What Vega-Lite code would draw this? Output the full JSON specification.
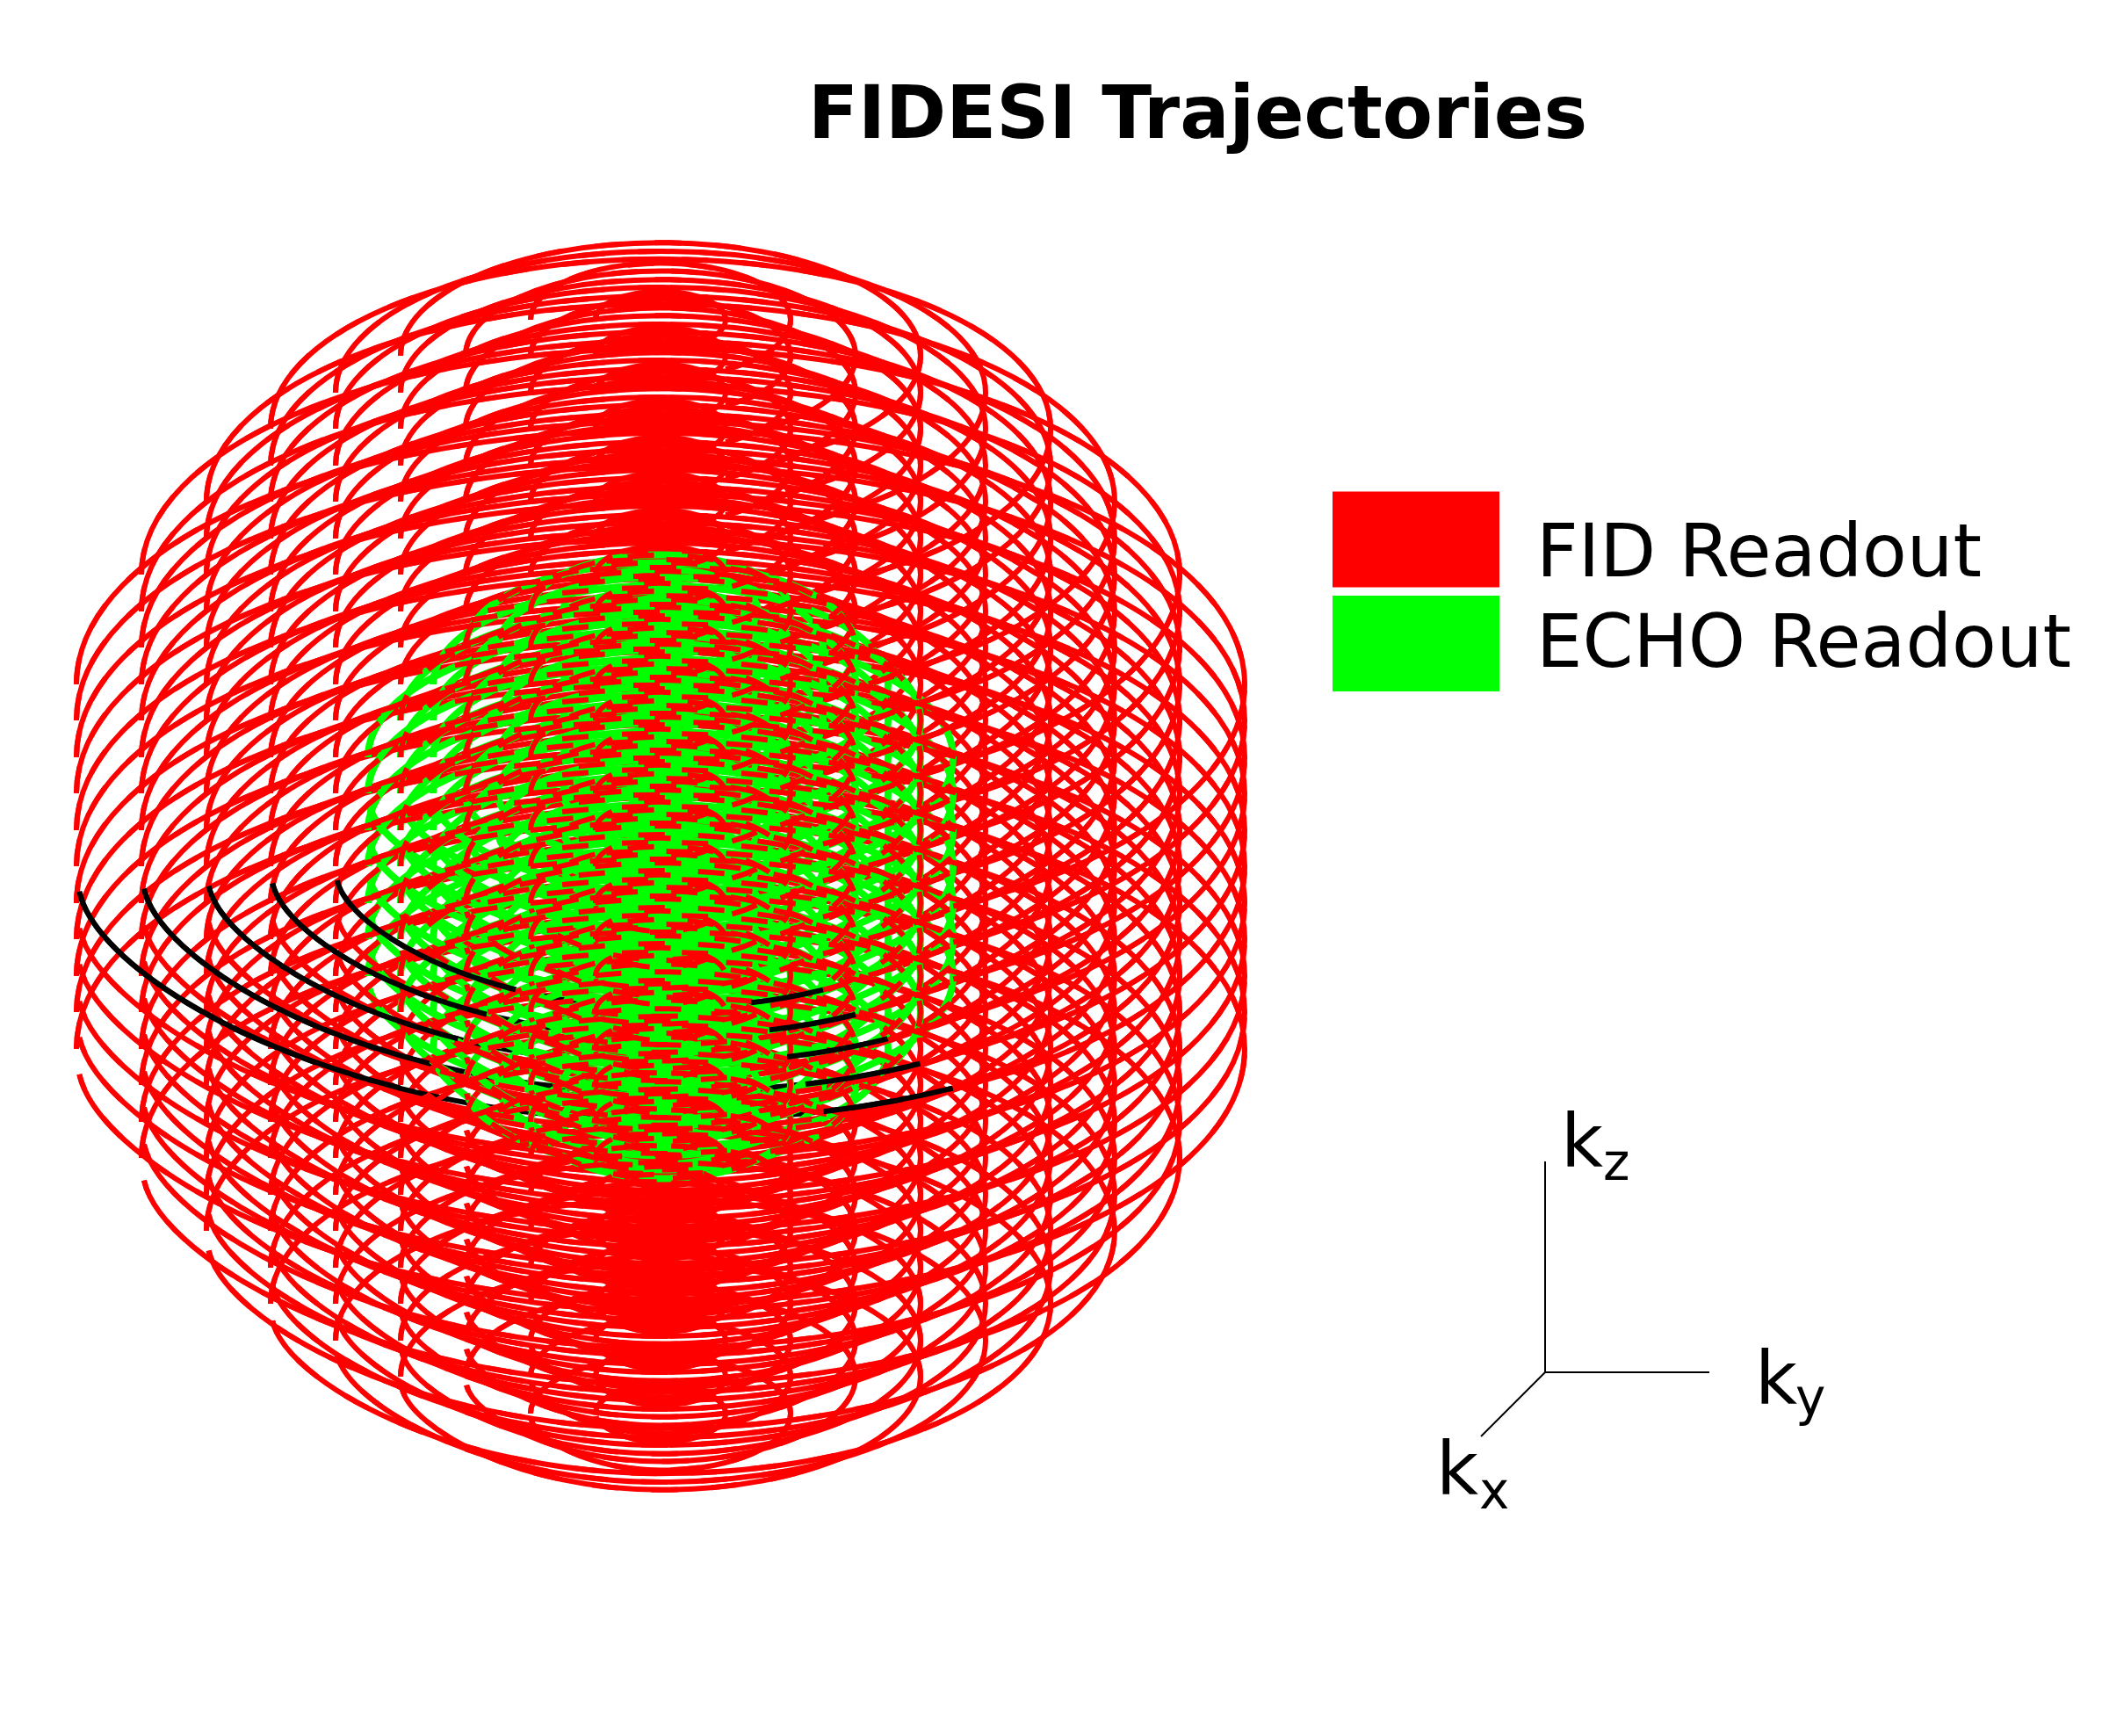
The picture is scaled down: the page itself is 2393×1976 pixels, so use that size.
{"$schema":"https://vega.github.io/schema/vega-lite/v6.json","width":2393,"height":1976,"autosize":{"type":"none"},"padding":0,"background":"white","config":{"view":{"stroke":null}},
"title":{"text":"FIDESI Trajectories","anchor":"start","dx":920,"dy":240,"offset":0,"baseline":"alphabetic","font":"DejaVu Sans","fontWeight":"bold","fontSize":83.4,"color":"black"},
"datasets":{"rings":[
{"s":"B","r":665,"y":986},{"s":"B","r":591,"y":986},{"s":"B","r":517,"y":986},{"s":"B","r":444,"y":986},{"s":"B","r":370,"y":986},{"s":"B","r":296,"y":986},{"s":"B","r":222,"y":986},{"s":"B","r":148,"y":986},
{"s":"F","r":665,"y":779},{"s":"F","r":665,"y":820},{"s":"F","r":665,"y":862},{"s":"F","r":665,"y":903},{"s":"F","r":665,"y":945},{"s":"F","r":665,"y":986},{"s":"F","r":665,"y":1028},{"s":"F","r":665,"y":1069},{"s":"F","r":665,"y":1111},{"s":"F","r":665,"y":1152},{"s":"F","r":665,"y":1194},
{"s":"F","r":591,"y":654},{"s":"F","r":591,"y":696},{"s":"F","r":591,"y":737},{"s":"F","r":591,"y":779},{"s":"F","r":591,"y":820},{"s":"F","r":591,"y":862},{"s":"F","r":591,"y":903},{"s":"F","r":591,"y":945},{"s":"F","r":591,"y":986},{"s":"F","r":591,"y":1028},{"s":"F","r":591,"y":1069},{"s":"F","r":591,"y":1111},{"s":"F","r":591,"y":1152},{"s":"F","r":591,"y":1194},{"s":"F","r":591,"y":1235},{"s":"F","r":591,"y":1277},{"s":"F","r":591,"y":1318},
{"s":"F","r":517,"y":571},{"s":"F","r":517,"y":613},{"s":"F","r":517,"y":654},{"s":"F","r":517,"y":696},{"s":"F","r":517,"y":737},{"s":"F","r":517,"y":779},{"s":"F","r":517,"y":820},{"s":"F","r":517,"y":862},{"s":"F","r":517,"y":903},{"s":"F","r":517,"y":945},{"s":"F","r":517,"y":986},{"s":"F","r":517,"y":1028},{"s":"F","r":517,"y":1069},{"s":"F","r":517,"y":1111},{"s":"F","r":517,"y":1152},{"s":"F","r":517,"y":1194},{"s":"F","r":517,"y":1235},{"s":"F","r":517,"y":1277},{"s":"F","r":517,"y":1318},{"s":"F","r":517,"y":1360},{"s":"F","r":517,"y":1401},
{"s":"F","r":444,"y":488},{"s":"F","r":444,"y":530},{"s":"F","r":444,"y":571},{"s":"F","r":444,"y":613},{"s":"F","r":444,"y":654},{"s":"F","r":444,"y":696},{"s":"F","r":444,"y":737},{"s":"F","r":444,"y":779},{"s":"F","r":444,"y":820},{"s":"F","r":444,"y":862},{"s":"F","r":444,"y":903},{"s":"F","r":444,"y":945},{"s":"F","r":444,"y":986},{"s":"F","r":444,"y":1028},{"s":"F","r":444,"y":1069},{"s":"F","r":444,"y":1111},{"s":"F","r":444,"y":1152},{"s":"F","r":444,"y":1194},{"s":"F","r":444,"y":1235},{"s":"F","r":444,"y":1277},{"s":"F","r":444,"y":1318},{"s":"F","r":444,"y":1360},{"s":"F","r":444,"y":1401},{"s":"F","r":444,"y":1443},{"s":"F","r":444,"y":1484},
{"s":"F","r":370,"y":447},{"s":"F","r":370,"y":488},{"s":"F","r":370,"y":530},{"s":"F","r":370,"y":571},{"s":"F","r":370,"y":613},{"s":"F","r":370,"y":654},{"s":"F","r":370,"y":696},{"s":"F","r":370,"y":737},{"s":"F","r":370,"y":779},{"s":"F","r":370,"y":820},{"s":"F","r":370,"y":862},{"s":"F","r":370,"y":903},{"s":"F","r":370,"y":945},{"s":"F","r":370,"y":986},{"s":"F","r":370,"y":1028},{"s":"F","r":370,"y":1069},{"s":"F","r":370,"y":1111},{"s":"F","r":370,"y":1152},{"s":"F","r":370,"y":1194},{"s":"F","r":370,"y":1235},{"s":"F","r":370,"y":1277},{"s":"F","r":370,"y":1318},{"s":"F","r":370,"y":1360},{"s":"F","r":370,"y":1401},{"s":"F","r":370,"y":1443},{"s":"F","r":370,"y":1484},{"s":"F","r":370,"y":1526},
{"s":"F","r":296,"y":405},{"s":"F","r":296,"y":447},{"s":"F","r":296,"y":488},{"s":"F","r":296,"y":530},{"s":"F","r":296,"y":571},{"s":"F","r":296,"y":613},{"s":"F","r":296,"y":654},{"s":"F","r":296,"y":696},{"s":"F","r":296,"y":737},{"s":"F","r":296,"y":779},{"s":"F","r":296,"y":820},{"s":"F","r":296,"y":862},{"s":"F","r":296,"y":903},{"s":"F","r":296,"y":945},{"s":"F","r":296,"y":986},{"s":"F","r":296,"y":1028},{"s":"F","r":296,"y":1069},{"s":"F","r":296,"y":1111},{"s":"F","r":296,"y":1152},{"s":"F","r":296,"y":1194},{"s":"F","r":296,"y":1235},{"s":"F","r":296,"y":1277},{"s":"F","r":296,"y":1318},{"s":"F","r":296,"y":1360},{"s":"F","r":296,"y":1401},{"s":"F","r":296,"y":1443},{"s":"F","r":296,"y":1484},{"s":"F","r":296,"y":1526},{"s":"F","r":296,"y":1567},
{"s":"F","r":222,"y":405},{"s":"F","r":222,"y":447},{"s":"F","r":222,"y":488},{"s":"F","r":222,"y":530},{"s":"F","r":222,"y":571},{"s":"F","r":222,"y":613},{"s":"F","r":222,"y":654},{"s":"F","r":222,"y":696},{"s":"F","r":222,"y":737},{"s":"F","r":222,"y":779},{"s":"F","r":222,"y":820},{"s":"F","r":222,"y":862},{"s":"F","r":222,"y":903},{"s":"F","r":222,"y":945},{"s":"F","r":222,"y":986},{"s":"F","r":222,"y":1028},{"s":"F","r":222,"y":1069},{"s":"F","r":222,"y":1111},{"s":"F","r":222,"y":1152},{"s":"F","r":222,"y":1194},{"s":"F","r":222,"y":1235},{"s":"F","r":222,"y":1277},{"s":"F","r":222,"y":1318},{"s":"F","r":222,"y":1360},{"s":"F","r":222,"y":1401},{"s":"F","r":222,"y":1443},{"s":"F","r":222,"y":1484},{"s":"F","r":222,"y":1526},{"s":"F","r":222,"y":1567},
{"s":"F","r":148,"y":364},{"s":"F","r":148,"y":405},{"s":"F","r":148,"y":447},{"s":"F","r":148,"y":488},{"s":"F","r":148,"y":530},{"s":"F","r":148,"y":571},{"s":"F","r":148,"y":613},{"s":"F","r":148,"y":654},{"s":"F","r":148,"y":696},{"s":"F","r":148,"y":737},{"s":"F","r":148,"y":779},{"s":"F","r":148,"y":820},{"s":"F","r":148,"y":862},{"s":"F","r":148,"y":903},{"s":"F","r":148,"y":945},{"s":"F","r":148,"y":986},{"s":"F","r":148,"y":1028},{"s":"F","r":148,"y":1069},{"s":"F","r":148,"y":1111},{"s":"F","r":148,"y":1152},{"s":"F","r":148,"y":1194},{"s":"F","r":148,"y":1235},{"s":"F","r":148,"y":1277},{"s":"F","r":148,"y":1318},{"s":"F","r":148,"y":1360},{"s":"F","r":148,"y":1401},{"s":"F","r":148,"y":1443},{"s":"F","r":148,"y":1484},{"s":"F","r":148,"y":1526},{"s":"F","r":148,"y":1567},{"s":"F","r":148,"y":1609},
{"s":"F","r":74,"y":364},{"s":"F","r":74,"y":405},{"s":"F","r":74,"y":447},{"s":"F","r":74,"y":488},{"s":"F","r":74,"y":530},{"s":"F","r":74,"y":571},{"s":"F","r":74,"y":613},{"s":"F","r":74,"y":654},{"s":"F","r":74,"y":696},{"s":"F","r":74,"y":737},{"s":"F","r":74,"y":779},{"s":"F","r":74,"y":820},{"s":"F","r":74,"y":862},{"s":"F","r":74,"y":903},{"s":"F","r":74,"y":945},{"s":"F","r":74,"y":986},{"s":"F","r":74,"y":1028},{"s":"F","r":74,"y":1069},{"s":"F","r":74,"y":1111},{"s":"F","r":74,"y":1152},{"s":"F","r":74,"y":1194},{"s":"F","r":74,"y":1235},{"s":"F","r":74,"y":1277},{"s":"F","r":74,"y":1318},{"s":"F","r":74,"y":1360},{"s":"F","r":74,"y":1401},{"s":"F","r":74,"y":1443},{"s":"F","r":74,"y":1484},{"s":"F","r":74,"y":1526},{"s":"F","r":74,"y":1567},{"s":"F","r":74,"y":1609},
{"s":"E","r":333,"y":862},{"s":"E","r":333,"y":903},{"s":"E","r":333,"y":945},{"s":"E","r":333,"y":986},{"s":"E","r":333,"y":1028},{"s":"E","r":333,"y":1069},{"s":"E","r":333,"y":1111},
{"s":"E","r":296,"y":820},{"s":"E","r":296,"y":862},{"s":"E","r":296,"y":903},{"s":"E","r":296,"y":945},{"s":"E","r":296,"y":986},{"s":"E","r":296,"y":1028},{"s":"E","r":296,"y":1069},{"s":"E","r":296,"y":1111},{"s":"E","r":296,"y":1152},
{"s":"E","r":259,"y":779},{"s":"E","r":259,"y":820},{"s":"E","r":259,"y":862},{"s":"E","r":259,"y":903},{"s":"E","r":259,"y":945},{"s":"E","r":259,"y":986},{"s":"E","r":259,"y":1028},{"s":"E","r":259,"y":1069},{"s":"E","r":259,"y":1111},{"s":"E","r":259,"y":1152},{"s":"E","r":259,"y":1194},
{"s":"E","r":222,"y":737},{"s":"E","r":222,"y":779},{"s":"E","r":222,"y":820},{"s":"E","r":222,"y":862},{"s":"E","r":222,"y":903},{"s":"E","r":222,"y":945},{"s":"E","r":222,"y":986},{"s":"E","r":222,"y":1028},{"s":"E","r":222,"y":1069},{"s":"E","r":222,"y":1111},{"s":"E","r":222,"y":1152},{"s":"E","r":222,"y":1194},{"s":"E","r":222,"y":1235},
{"s":"E","r":185,"y":737},{"s":"E","r":185,"y":779},{"s":"E","r":185,"y":820},{"s":"E","r":185,"y":862},{"s":"E","r":185,"y":903},{"s":"E","r":185,"y":945},{"s":"E","r":185,"y":986},{"s":"E","r":185,"y":1028},{"s":"E","r":185,"y":1069},{"s":"E","r":185,"y":1111},{"s":"E","r":185,"y":1152},{"s":"E","r":185,"y":1194},{"s":"E","r":185,"y":1235},
{"s":"E","r":148,"y":696},{"s":"E","r":148,"y":737},{"s":"E","r":148,"y":779},{"s":"E","r":148,"y":820},{"s":"E","r":148,"y":862},{"s":"E","r":148,"y":903},{"s":"E","r":148,"y":945},{"s":"E","r":148,"y":986},{"s":"E","r":148,"y":1028},{"s":"E","r":148,"y":1069},{"s":"E","r":148,"y":1111},{"s":"E","r":148,"y":1152},{"s":"E","r":148,"y":1194},{"s":"E","r":148,"y":1235},{"s":"E","r":148,"y":1277},
{"s":"E","r":111,"y":696},{"s":"E","r":111,"y":737},{"s":"E","r":111,"y":779},{"s":"E","r":111,"y":820},{"s":"E","r":111,"y":862},{"s":"E","r":111,"y":903},{"s":"E","r":111,"y":945},{"s":"E","r":111,"y":986},{"s":"E","r":111,"y":1028},{"s":"E","r":111,"y":1069},{"s":"E","r":111,"y":1111},{"s":"E","r":111,"y":1152},{"s":"E","r":111,"y":1194},{"s":"E","r":111,"y":1235},{"s":"E","r":111,"y":1277},
{"s":"E","r":74,"y":696},{"s":"E","r":74,"y":737},{"s":"E","r":74,"y":779},{"s":"E","r":74,"y":820},{"s":"E","r":74,"y":862},{"s":"E","r":74,"y":903},{"s":"E","r":74,"y":945},{"s":"E","r":74,"y":986},{"s":"E","r":74,"y":1028},{"s":"E","r":74,"y":1069},{"s":"E","r":74,"y":1111},{"s":"E","r":74,"y":1152},{"s":"E","r":74,"y":1194},{"s":"E","r":74,"y":1235},{"s":"E","r":74,"y":1277},
{"s":"E","r":37,"y":696},{"s":"E","r":37,"y":737},{"s":"E","r":37,"y":779},{"s":"E","r":37,"y":820},{"s":"E","r":37,"y":862},{"s":"E","r":37,"y":903},{"s":"E","r":37,"y":945},{"s":"E","r":37,"y":986},{"s":"E","r":37,"y":1028},{"s":"E","r":37,"y":1069},{"s":"E","r":37,"y":1111},{"s":"E","r":37,"y":1152},{"s":"E","r":37,"y":1194},{"s":"E","r":37,"y":1235},{"s":"E","r":37,"y":1277}
],
"axes":[{"a":"z","x":1759,"y":1322},{"a":"z","x":1759,"y":1562},{"a":"y","x":1759,"y":1562},{"a":"y","x":1946,"y":1562},{"a":"x","x":1759,"y":1562},{"a":"x","x":1686,"y":1635}],
"big":[{"t":"k","x":1777,"y":1328},{"t":"k","x":1998,"y":1598},{"t":"k","x":1635,"y":1701}],
"sub":[{"t":"z","x":1825,"y":1343},{"t":"y","x":2044,"y":1611},{"t":"x","x":1684,"y":1717}]},
"encoding":{"y":{"field":"y","type":"quantitative","scale":{"domain":[1976,0]},"axis":null}},
"layer":[
{"encoding":{"x":{"datum":752,"type":"quantitative","scale":{"domain":[0,2393]},"axis":null},"size":{"field":"r","type":"quantitative","scale":{"type":"pow","exponent":2,"domain":[0,700],"range":[0,1960000]},"legend":null}},
"layer":[
{"data":{"name":"rings"},"transform":[{"filter":"datum.s=='F'&&datum.y<1000"}],"mark":{"type":"point","filled":false,"opacity":1,"strokeWidth":6,"shape":"M -1 0 C -1 -0.24 -0.552 -0.435 0 -0.435 C 0.552 -0.435 1 -0.24 1 0 C 1 0.161 0.799 0.31 0.5 0.38"},"encoding":{"color":{"field":"s","type":"nominal","scale":{"domain":["F","E"],"range":["#ff0000","#00ff00"]},"legend":{"title":null,"orient":"none","legendX":1562,"legendY":564,"symbolType":"M -1.9 -1.09 H 1.9 V 1.09 H -1.9 Z","symbolSize":10000,"symbolStrokeWidth":0,"symbolOpacity":1,"rowPadding":4.5,"labelOffset":87,"labelFont":"DejaVu Sans","labelFontSize":83,"labelColor":"black","labelLimit":800,"labelExpr":"datum.label=='F'?'FID Readout':'ECHO Readout'","encoding":{"symbols":{"fill":{"value":{"signal":"datum.value=='F'?'#ff0000':'#00ff00'"}}},"labels":{"dy":{"value":{"signal":"datum.value=='F'?17:1"}}}}}}}},
{"data":{"name":"rings"},"transform":[{"filter":"datum.s=='F'&&datum.y>=1000"}],"mark":{"type":"point","filled":false,"opacity":1,"strokeWidth":6,"shape":"M -1 0 C -1 -0.24 -0.552 -0.435 0 -0.435 C 0.552 -0.435 1 -0.24 1 0 C 1 0.24 0.552 0.435 0 0.435 C -0.54 0.435 -0.96 0.2 -0.995 0.0435"},"encoding":{"color":{"field":"s","type":"nominal","legend":null}}},
{"data":{"name":"rings"},"transform":[{"filter":"datum.s=='B'"}],"mark":{"type":"point","filled":false,"opacity":1,"strokeWidth":6,"color":"#000000","shape":"M -0.995 0.0435 C -0.96 0.2 -0.54 0.435 0 0.435 C 0.17 0.435 0.34 0.42 0.5 0.38"}},
{"data":{"name":"rings"},"transform":[{"filter":"datum.s=='E'&&datum.y<880"}],"mark":{"type":"point","filled":false,"opacity":1,"strokeWidth":8,"shape":"M -1 0 C -1 -0.24 -0.552 -0.435 0 -0.435 C 0.552 -0.435 1 -0.24 1 0 C 1 0.161 0.799 0.31 0.5 0.38"},"encoding":{"color":{"field":"s","type":"nominal","legend":null}}},
{"data":{"name":"rings"},"transform":[{"filter":"datum.s=='E'&&datum.y>=880"}],"mark":{"type":"point","filled":false,"opacity":1,"strokeWidth":8,"shape":"M -1 0 C -1 -0.24 -0.552 -0.435 0 -0.435 C 0.552 -0.435 1 -0.24 1 0 C 1 0.24 0.552 0.435 0 0.435 C -0.54 0.435 -0.96 0.2 -0.995 0.0435"},"encoding":{"color":{"field":"s","type":"nominal","legend":null}}},
{"data":{"name":"rings"},"transform":[{"filter":"datum.s=='F'&&datum.y<1000"}],"mark":{"type":"point","filled":false,"opacity":1,"strokeWidth":6,"strokeDash":[30,38],"shape":"M -1 0 C -1 -0.24 -0.552 -0.435 0 -0.435 C 0.552 -0.435 1 -0.24 1 0 C 1 0.161 0.799 0.31 0.5 0.38"},"encoding":{"color":{"field":"s","type":"nominal","legend":null}}},
{"data":{"name":"rings"},"transform":[{"filter":"datum.s=='F'&&datum.y>=1000"}],"mark":{"type":"point","filled":false,"opacity":1,"strokeWidth":6,"strokeDash":[30,38],"shape":"M -1 0 C -1 -0.24 -0.552 -0.435 0 -0.435 C 0.552 -0.435 1 -0.24 1 0 C 1 0.24 0.552 0.435 0 0.435 C -0.54 0.435 -0.96 0.2 -0.995 0.0435"},"encoding":{"color":{"field":"s","type":"nominal","legend":null}}},
{"data":{"name":"rings"},"transform":[{"filter":"datum.s=='B'&&datum.r>=370"}],"mark":{"type":"point","filled":false,"opacity":1,"strokeWidth":6,"color":"#000000","shape":"M -0.995 0.0435 C -0.9705 0.153 -0.757 0.3 -0.446 0.3797 M 0.279 0.4198 C 0.354 0.411 0.428 0.398 0.5 0.38"}}
]},
{"data":{"name":"axes"},"mark":{"type":"line","color":"#000000","strokeWidth":2},"encoding":{"x":{"field":"x","type":"quantitative","scale":{"domain":[0,2393]},"axis":null},"detail":{"field":"a"}}},
{"data":{"name":"big"},"mark":{"type":"text","align":"left","baseline":"alphabetic","font":"DejaVu Sans","fontSize":83,"color":"#000000"},"encoding":{"x":{"field":"x","type":"quantitative","scale":{"domain":[0,2393]},"axis":null},"text":{"field":"t"}}},
{"data":{"name":"sub"},"mark":{"type":"text","align":"left","baseline":"alphabetic","font":"DejaVu Sans","fontSize":58,"color":"#000000"},"encoding":{"x":{"field":"x","type":"quantitative","scale":{"domain":[0,2393]},"axis":null},"text":{"field":"t"}}}
]}
